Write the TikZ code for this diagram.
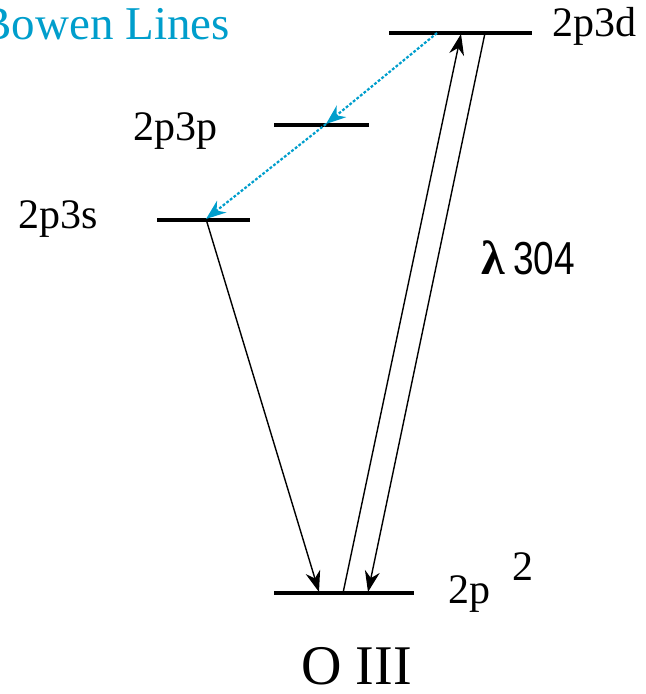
\documentclass[tikz,border=0pt]{standalone}
\usepackage{fontspec}
\setmainfont{Liberation Serif}
\newfontfamily\narrowsans{Liberation Sans}
\usepackage{xcolor}
\usetikzlibrary{arrows.meta}
\definecolor{bowen}{RGB}{0,158,204}
\tikzset{
  level/.style={line width=2.2pt},
  trans/.style={line width=0.7pt,-{Stealth[length=10.5pt,width=7.5pt]}},
  bowenline/.style={bowen,line width=1.1pt,dash pattern=on 1.4pt off 0.9pt,-{Stealth[length=10pt,width=7.5pt]}},
  lab/.style={anchor=base west,inner sep=0pt,font=\fontsize{21}{23}\selectfont}
}
\begin{document}
\begin{tikzpicture}[x=0.5pt,y=-0.5pt]
\useasboundingbox (0,0) rectangle (645,694);
% energy levels
\draw[level](389,33)coordinate(d-l)--(532,33)coordinate(d-r);
\draw[level](274,125)coordinate(p-l)--(369,125)coordinate(p-r);
\draw[level](157,220)coordinate(s-l)--(250,220)coordinate(s-r);
\draw[level](274,593)coordinate(g-l)--(414,593)coordinate(g-r);
% points on the levels
\coordinate(d-a)at(437,33); \coordinate(d-b)at(461,34); \coordinate(d-c)at(485,33);
\coordinate(p-a)at(326,124);
\coordinate(s-a)at(206,219);
\coordinate(g-a)at(319,592); \coordinate(g-b)at(343,593); \coordinate(g-c)at(368,592);
% labels
\node[lab](n-d)at(552,37){2p3d};
\node[lab](n-p)at(133,141){2p3p};
\node[lab](n-s)at(18,229){2p3s};
\node[lab](n-g)at(448,603){2p};
\node[lab](n-g2)at(512,580){2};
\node[lab,font=\fontsize{23.5}{25}\selectfont,bowen](n-bowen)at(-20,40){Bowen Lines};
\node[lab,font=\fontsize{28}{30}\selectfont](n-ion)at(301,684){O III};
\node[lab,font=\fontsize{24}{26}\selectfont](n-lam)at(481,275){\textbf{λ}\,\narrowsans\fontsize{18.5}{20}\selectfont\scalebox{1}[1.25]{304}};
% transitions
\draw[bowenline](d-a)--(p-a);
\draw[bowenline](p-a)--(s-a);
\draw[trans](s-a)--(g-a);
\draw[trans](g-b)--(d-b);
\draw[trans](d-c)--(g-c);
\end{tikzpicture}
\end{document}
